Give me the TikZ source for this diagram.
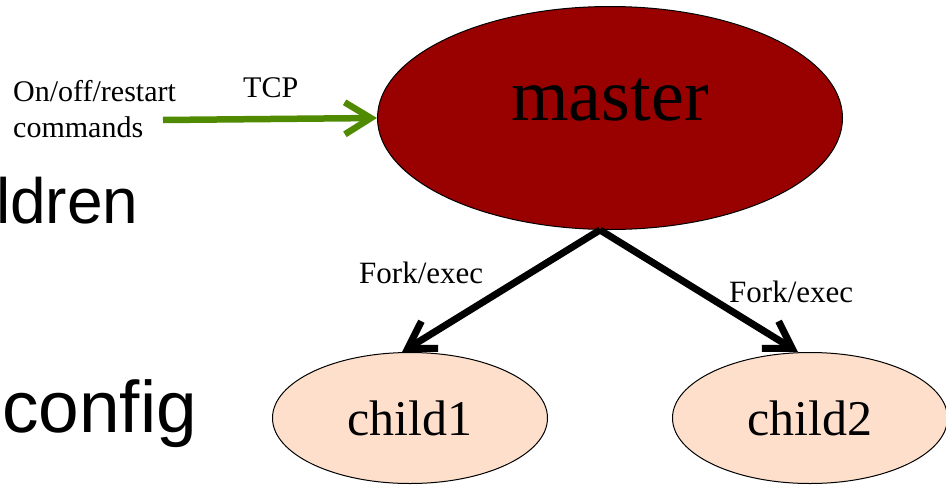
\documentclass[tikz,border=0pt]{standalone}
\usepackage{fontspec}
\setmainfont{Liberation Serif}
\setsansfont{Liberation Sans}
\usepackage{xcolor}
\usepackage{tikz}
\usetikzlibrary{shapes.geometric,arrows.meta}
\definecolor{masterred}{HTML}{990000}
\definecolor{childpeach}{HTML}{FDDFCC}
\definecolor{ctrlgreen}{HTML}{4F8A00}
\tikzset{
  proc/.style={ellipse, draw=black, line width=1pt, inner sep=0pt},
  masterproc/.style={proc, fill=masterred, minimum width=465pt, minimum height=223pt,
    font=\fontsize{74}{80}\selectfont, text depth=36pt},
  childproc/.style={proc, fill=childpeach, minimum width=275pt, minimum height=131pt,
    font=\fontsize{50}{56}\selectfont},
  spawn/.style={draw=black, line width=7pt, -{Straight Barb[length=26pt, width=32pt]}},
  ctrl/.style={draw=ctrlgreen, line width=6.5pt, -{Straight Barb[length=26pt, width=32pt]}},
  note/.style={font=\fontsize{30}{36}\selectfont, inner sep=0pt},
  slidetxt/.style={font=\sffamily\fontsize{64}{70}\selectfont, inner sep=0pt},
}

\begin{document}
\begin{tikzpicture}[x=1pt, y=-1pt]
  \useasboundingbox (0,0) rectangle (946,485);

  % slide text behind the diagram
  \node[slidetxt, anchor=base west] (kids) at (-4,223) {ldren};
  \node[slidetxt, anchor=base west, font=\sffamily\fontsize{73}{78}\selectfont] (cfg) at (2,432) {config};

  % processes
  \node[masterproc] (master) at (610,118) {master};
  \node[childproc] (child1) at (410,418) {child1};
  \node[childproc] (child2) at (810,418) {child2};

  % control channel
  \node[note, anchor=base west, align=left] (cmds) at (13,137) {On/off/restart\\commands};
  \node[note, anchor=base west] (tcp) at (243,97) {TCP};
  \coordinate (cmdtail) at (163,120);
  \draw[ctrl] (cmdtail) -- (master.west);

  % fork/exec
  \draw[spawn] ([xshift=-10pt]master.south) -- ([xshift=-8pt]child1.north);
  \draw[spawn] ([xshift=-10pt]master.south) -- ([xshift=-12pt]child2.north);
  \node[note, anchor=base west, font=\fontsize{31}{36}\selectfont] (fork1) at (359,283) {Fork/exec};
  \node[note, anchor=base west, font=\fontsize{31}{36}\selectfont] (fork2) at (729,302) {Fork/exec};
\end{tikzpicture}
\end{document}
